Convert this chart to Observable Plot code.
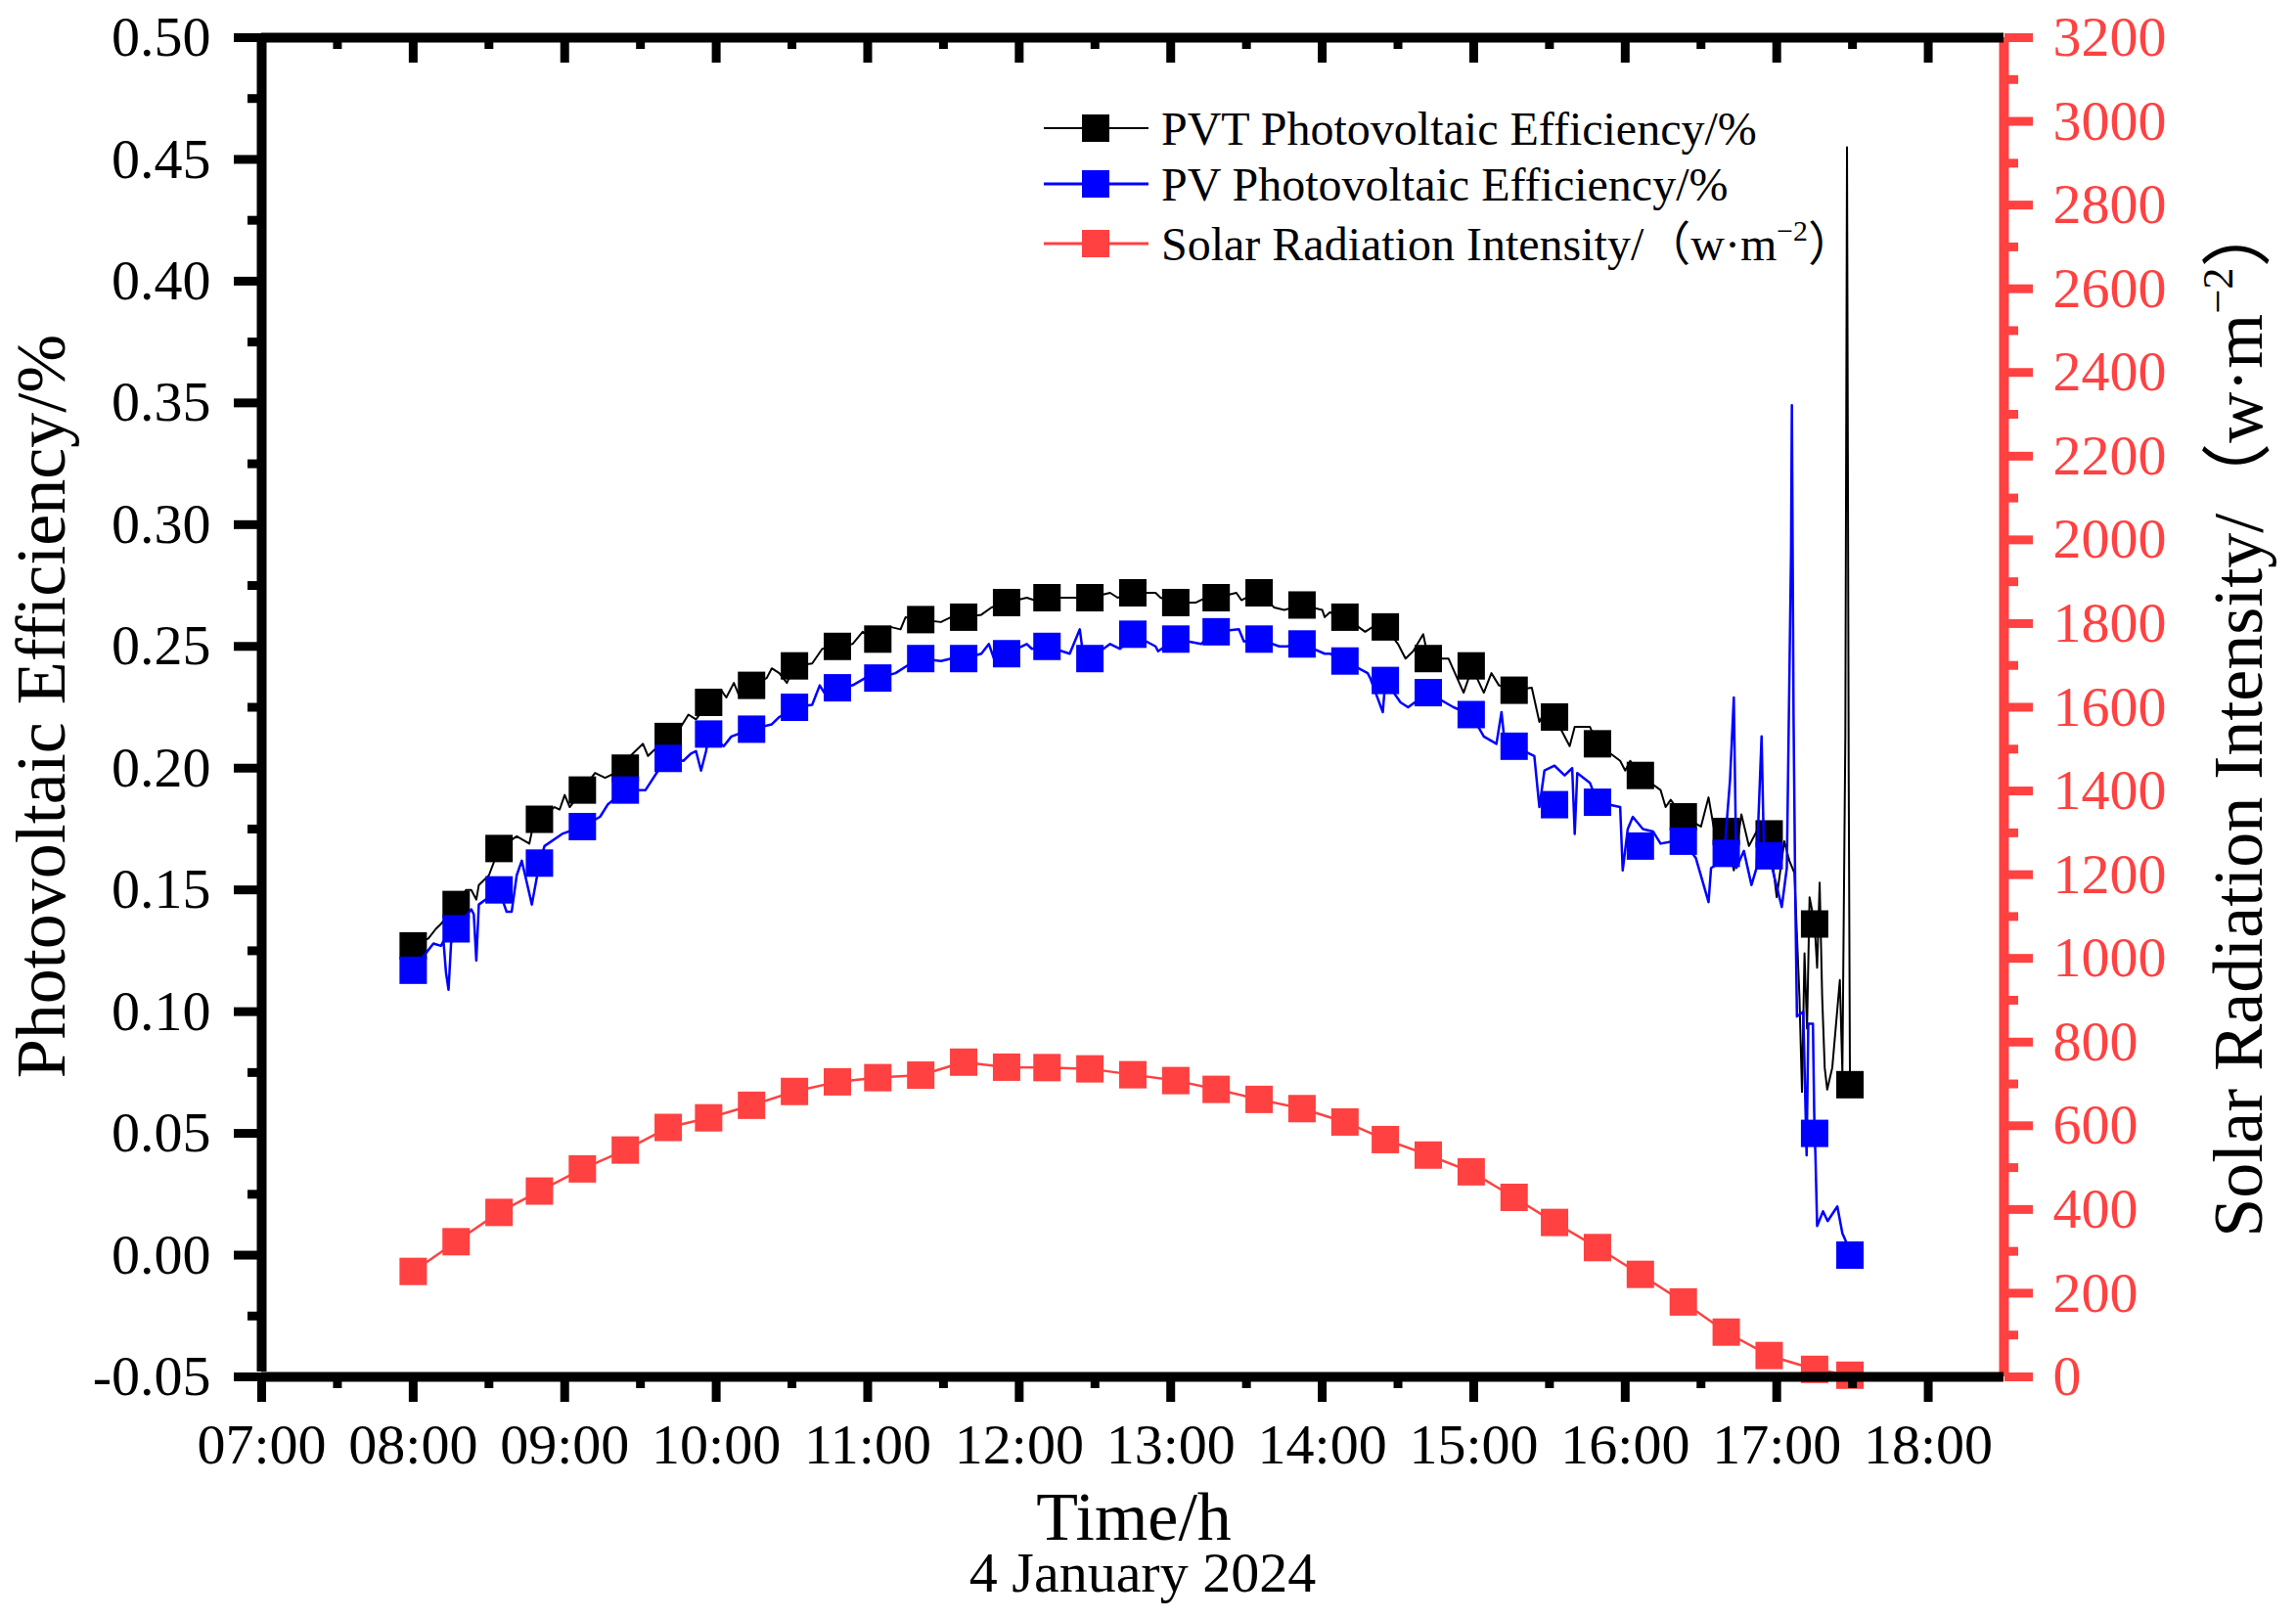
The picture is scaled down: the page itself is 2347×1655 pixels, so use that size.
<!DOCTYPE html>
<html><head><meta charset="utf-8">
<script src="https://cdn.jsdelivr.net/npm/d3@7"></script>
<script src="https://cdn.jsdelivr.net/npm/@observablehq/plot@0.6"></script>
<style>
html,body{margin:0;padding:0;background:#fff;}
#chart{position:relative;width:2347px;height:1655px;background:#fff;}
#chart svg{position:absolute;left:0;top:0;}
</style></head><body><div id="chart"></div>
<script>
// ---------- data ----------
const markerTimes = ["08:00","08:17","08:34","08:50","09:07","09:24","09:41","09:57","10:14","10:31","10:48","11:04","11:21","11:38","11:55","12:11","12:28","12:45","13:02","13:18","13:35","13:52","14:09","14:25","14:42","14:59","15:16","15:32","15:49","16:06","16:23","16:40","16:57","17:15","17:29"];
const pvtMarkers = [0.127,0.144,0.167,0.179,0.191,0.200,0.213,0.227,0.234,0.242,0.250,0.253,0.261,0.262,0.268,0.270,0.270,0.272,0.268,0.270,0.272,0.267,0.262,0.258,0.245,0.242,0.232,0.221,0.210,0.197,0.180,0.174,0.173,0.136,0.070];
const pvMarkers = [0.117,0.134,0.150,0.161,0.176,0.191,0.204,0.214,0.216,0.225,0.233,0.237,0.245,0.245,0.247,0.250,0.245,0.255,0.253,0.256,0.253,0.251,0.244,0.236,0.231,0.222,0.209,0.185,0.186,0.168,0.170,0.165,0.164,0.050,0.000];
const solarMarkers = [252,323,393,444,497,542,596,619,649,682,705,715,721,752,740,739,736,722,708,687,663,641,609,567,530,490,429,369,309,245,179,107,51,18,4];

// PVT efficiency trace (time, value)
const pvtTrace = [
["08:00",0.127],["08:06",0.130],["08:09",0.134],["08:11",0.136],["08:17",0.144],["08:21",0.150],["08:23",0.150],["08:25",0.146],["08:26",0.152],["08:30",0.156],
["08:34",0.167],["08:41",0.172],["08:46",0.169],["08:47",0.174],["08:50",0.179],["08:56",0.184],["08:58",0.183],["09:00",0.189],["09:02",0.184],["09:07",0.191],
["09:12",0.198],["09:16",0.196],["09:24",0.200],["09:26",0.205],["09:31",0.210],["09:33",0.205],["09:41",0.213],["09:46",0.217],["09:49",0.222],["09:52",0.220],
["09:57",0.227],["10:02",0.232],["10:04",0.229],["10:07",0.235],["10:09",0.230],["10:14",0.234],["10:20",0.237],["10:22",0.241],["10:25",0.239],["10:28",0.235],
["10:31",0.242],["10:38",0.243],["10:42",0.249],["10:48",0.250],["10:54",0.251],["10:58",0.256],["11:04",0.253],["11:09",0.258],["11:13",0.257],["11:15",0.262],
["11:21",0.261],["11:29",0.260],["11:33",0.262],["11:38",0.262],["11:45",0.263],["11:49",0.266],["11:55",0.268],["12:03",0.270],["12:06",0.269],["12:11",0.270],
["12:19",0.270],["12:22",0.270],["12:28",0.270],["12:36",0.272],["12:39",0.270],["12:45",0.272],["12:54",0.272],["12:56",0.270],["13:02",0.268],["13:10",0.268],
["13:14",0.270],["13:18",0.270],["13:26",0.272],["13:28",0.269],["13:30",0.270],["13:35",0.272],["13:41",0.266],["13:45",0.265],["13:52",0.267],["14:00",0.265],
["14:01",0.262],["14:03",0.264],["14:09",0.262],["14:17",0.256],["14:20",0.258],["14:25",0.258],["14:30",0.251],["14:33",0.245],["14:36",0.248],["14:40",0.255],
["14:42",0.245],["14:50",0.245],["14:56",0.231],["14:58",0.237],["14:59",0.242],["15:04",0.231],["15:07",0.239],["15:10",0.234],["15:16",0.232],["15:23",0.233],
["15:26",0.219],["15:28",0.223],["15:32",0.221],["15:38",0.209],["15:40",0.217],["15:46",0.217],["15:49",0.210],["15:58",0.203],["16:00",0.199],["16:02",0.203],
["16:06",0.197],["16:14",0.191],["16:16",0.184],["16:18",0.187],["16:23",0.180],["16:30",0.176],["16:33",0.188],["16:35",0.176],["16:40",0.174],["16:43",0.158],
["16:46",0.181],["16:49",0.168],["16:52",0.174],["16:57",0.173],["17:00",0.147],["17:03",0.170],["17:05",0.162],["17:07",0.157],["17:09",0.106],["17:10",0.067],
["17:11",0.124],["17:12",0.093],["17:13",0.147],["17:15",0.136],["17:16",0.118],["17:17",0.153],["17:18",0.106],["17:19",0.077],["17:20",0.068],["17:22",0.077],
["17:25",0.113],["17:26",0.075],["17:27:10",0.213],["17:27:50",0.455],["17:28:10",0.330],["17:28:30",0.198],["17:29",0.070]
];

// PV efficiency trace (time, value)
const pvTrace = [
["08:00",0.117],["08:05",0.124],["08:08",0.128],["08:11",0.127],["08:12",0.129],["08:13",0.116],["08:14",0.109],["08:15",0.128],["08:17",0.134],["08:23",0.142],
["08:24",0.140],["08:25",0.121],["08:26",0.144],["08:34",0.150],["08:37",0.141],["08:39",0.141],["08:41",0.156],["08:43",0.162],["08:47",0.144],["08:50",0.161],
["08:52",0.168],["08:59",0.173],["09:07",0.176],["09:14",0.180],["09:17",0.185],["09:24",0.191],["09:32",0.191],["09:37",0.199],["09:41",0.204],["09:47",0.203],
["09:50",0.206],["09:52",0.207],["09:54",0.199],["09:56",0.207],["09:57",0.214],["10:03",0.209],["10:06",0.213],["10:14",0.216],["10:22",0.218],["10:25",0.221],
["10:31",0.225],["10:38",0.226],["10:41",0.234],["10:44",0.229],["10:48",0.233],["10:54",0.234],["10:59",0.237],["11:04",0.237],["11:11",0.239],["11:17",0.243],
["11:21",0.245],["11:29",0.244],["11:33",0.245],["11:38",0.245],["11:45",0.247],["11:48",0.251],["11:50",0.245],["11:55",0.247],["12:03",0.251],["12:05",0.249],
["12:11",0.250],["12:20",0.247],["12:24",0.257],["12:25",0.249],["12:28",0.245],["12:36",0.251],["12:40",0.249],["12:45",0.255],["12:54",0.250],["12:55",0.248],
["13:02",0.253],["13:12",0.251],["13:14",0.253],["13:18",0.256],["13:27",0.257],["13:29",0.252],["13:35",0.253],["13:43",0.250],["13:46",0.250],["13:52",0.251],
["14:01",0.247],["14:03",0.247],["14:09",0.244],["14:18",0.239],["14:19",0.237],["14:24",0.223],["14:25",0.236],["14:31",0.227],["14:34",0.225],["14:42",0.231],
["14:52",0.225],["14:59",0.222],["15:04",0.213],["15:09",0.210],["15:11",0.223],["15:12",0.213],["15:16",0.209],["15:24",0.205],["15:26",0.184],["15:28",0.199],
["15:32",0.201],["15:36",0.197],["15:39",0.200],["15:40",0.173],["15:41",0.198],["15:46",0.194],["15:49",0.186],["15:58",0.184],["15:59",0.158],["16:01",0.175],
["16:03",0.180],["16:07",0.175],["16:11",0.174],["16:14",0.169],["16:19",0.170],["16:23",0.170],["16:28",0.163],["16:33",0.145],["16:34",0.159],["16:39",0.162],
["16:41:30",0.195],["16:43",0.229],["16:44",0.159],["16:47",0.166],["16:50",0.152],["16:52",0.159],["16:54",0.213],["16:55",0.162],["16:57",0.164],["17:02",0.143],
["17:04",0.159],["17:05:40",0.288],["17:06",0.349],["17:06:40",0.221],["17:07:20",0.149],["17:08",0.098],["17:10:30",0.100],["17:11:50",0.041],["17:12:30",0.095],["17:14:20",0.095],
["17:14:50",0.059],["17:15",0.050],["17:15:20",0.041],["17:16",0.012],["17:18:20",0.018],["17:20:10",0.014],["17:24",0.020],["17:26",0.009],["17:27:40",0.005],["17:29",0.000]
];

const hourTicks = [7,8,9,10,11,12,13,14,15,16,17,18];
const halfHourTicks = [7.5,8.5,9.5,10.5,11.5,12.5,13.5,14.5,15.5,16.5,17.5];
const leftTicks = [-0.05,0,0.05,0.10,0.15,0.20,0.25,0.30,0.35,0.40,0.45,0.50];
const leftMinor = [-0.025,0.025,0.075,0.125,0.175,0.225,0.275,0.325,0.375,0.425,0.475];
const rightTicks = [0,200,400,600,800,1000,1200,1400,1600,1800,2000,2200,2400,2600,2800,3000,3200];
const rightMinor = [100,300,500,700,900,1100,1300,1500,1700,1900,2100,2300,2500,2700,2900,3100];

const legendLabels = ["PVT Photovoltaic Efficiency/%","PV Photovoltaic Efficiency/%","Solar Radiation Intensity/（w·m"];

// ---------- helpers ----------
const toHours = s => { const p = s.split(":").map(Number); return p[0] + p[1]/60 + (p[2]||0)/3600; };
const fmtHour = h => String(h).padStart(2,"0") + ":00";

const pvtPts = markerTimes.map((t,i) => ({t: toHours(t), v: pvtMarkers[i]}));
const pvPts = markerTimes.map((t,i) => ({t: toHours(t), v: pvMarkers[i]}));
const solarPts = markerTimes.map((t,i) => ({t: toHours(t), v: solarMarkers[i]}));
const pvtLine = pvtTrace.map(([t,v]) => ({t: toHours(t), v}));
const pvLine = pvTrace.map(([t,v]) => ({t: toHours(t), v}));

const W = 2347, H = 1655;
const M = {top: 38, right: 299, bottom: 248, left: 267};
const plotH = H - M.top - M.bottom;
const RED = "#ff4141", BLUE = "#0000ff", BLACK = "#000000";
const FONT = "'Liberation Serif', 'Times New Roman', 'Noto Sans CJK SC', serif";
const common = {
  width: W, height: H,
  marginTop: M.top, marginRight: M.right, marginBottom: M.bottom, marginLeft: M.left,
  style: {background: "transparent", fontFamily: FONT, fontSize: "58px", overflow: "visible"}
};
const xScale = {type: "linear", domain: [7, 18.5], axis: null};
const sq = 15.8; // square marker "radius"

// bottom layer: solar radiation on right axis
const solarPlot = Plot.plot({
  ...common,
  x: xScale,
  y: {type: "linear", domain: [0, 3200], axis: null},
  marks: [
    Plot.line(solarPts, {x: "t", y: "v", stroke: RED, strokeWidth: 2.5}),
    Plot.dot(solarPts, {x: "t", y: "v", symbol: "square", r: sq, fill: RED}),
    Plot.ruleX([18.5], {stroke: RED, strokeWidth: 10}),
    Plot.axisY({anchor: "right", ticks: rightTicks, tickSize: 29, tickPadding: 21, fontSize: 58, strokeWidth: 9, stroke: RED, fill: RED, tickFormat: d => String(d), label: null}),
    Plot.axisY({anchor: "right", ticks: rightMinor, tickSize: 14, strokeWidth: 9, stroke: RED, tickFormat: () => "", label: null})
  ]
});

// top layer: efficiencies on left axis
const effPlot = Plot.plot({
  ...common,
  x: xScale,
  y: {type: "linear", domain: [-0.05, 0.5], axis: null},
  marks: [
    Plot.line(pvtLine, {x: "t", y: "v", stroke: BLACK, strokeWidth: 2}),
    Plot.dot(pvtPts, {x: "t", y: "v", symbol: "square", r: sq, fill: BLACK}),
    Plot.line(pvLine, {x: "t", y: "v", stroke: BLUE, strokeWidth: 2.5}),
    Plot.dot(pvPts, {x: "t", y: "v", symbol: "square", r: sq, fill: BLUE}),
    Plot.ruleY([-0.05, 0.5], {stroke: BLACK, strokeWidth: 10}),
    Plot.ruleX([7], {stroke: BLACK, strokeWidth: 10, y1: -0.05, y2: 0.5, insetTop: -5, insetBottom: -5}),
    Plot.tickX(hourTicks, {x: d => d, stroke: BLACK, strokeWidth: 9, insetBottom: plotH - 26}),
    Plot.tickX(halfHourTicks, {x: d => d, stroke: BLACK, strokeWidth: 9, insetBottom: plotH - 12}),
    Plot.axisY({anchor: "left", ticks: leftTicks, tickSize: 28, tickPadding: 24, fontSize: 58, strokeWidth: 9, tickFormat: d => d.toFixed(2), label: null}),
    Plot.axisY({anchor: "left", ticks: leftMinor, tickSize: 14, strokeWidth: 9, tickFormat: () => "", label: null}),
    Plot.axisX({anchor: "bottom", ticks: hourTicks, tickSize: 26, tickPadding: 21, fontSize: 58, strokeWidth: 9, tickFormat: fmtHour, label: null}),
    Plot.axisX({anchor: "bottom", ticks: halfHourTicks, tickSize: 12, strokeWidth: 9, tickFormat: () => "", label: null})
  ]
});

const chart = document.getElementById("chart");
chart.appendChild(solarPlot);
chart.appendChild(effPlot);

// ---------- titles & legend ----------
const svg = d3.select(effPlot);
const g = svg.append("g").attr("font-family", FONT).attr("fill", "black");

function radiationText(sel, fs) {
  sel.append("tspan").text("Solar Radiation Intensity/（w·m");
  sel.append("tspan").attr("dy", -0.42 * fs).attr("font-size", fs * 0.62).text("−2");
  sel.append("tspan").attr("dy", 0.42 * fs).text("）");
}

g.append("text").attr("transform", "translate(66,722) rotate(-90)")
  .attr("text-anchor", "middle").attr("font-size", 72).text("Photovoltaic Efficiency/%");
radiationText(
  g.append("text").attr("transform", "translate(2312,733) rotate(-90)")
   .attr("text-anchor", "middle").attr("font-size", 72), 72);

g.append("text").attr("x", 1159).attr("y", 1574).attr("text-anchor", "middle")
  .attr("font-size", 70).text("Time/h");
g.append("text").attr("x", 1168).attr("y", 1627).attr("text-anchor", "middle")
  .attr("font-size", 58).text("4 January 2024");

const legendRows = [
  {y: 131, color: BLACK, lw: 2},
  {y: 188, color: BLUE, lw: 3},
  {y: 249, color: RED, lw: 3}
];
legendRows.forEach((r, i) => {
  g.append("line").attr("x1", 1067).attr("x2", 1174).attr("y1", r.y).attr("y2", r.y)
    .attr("stroke", r.color).attr("stroke-width", r.lw);
  g.append("rect").attr("x", 1106).attr("y", r.y - 14).attr("width", 28).attr("height", 28).attr("fill", r.color);
  const t = g.append("text").attr("x", 1187).attr("y", r.y + 17)
    .attr("text-anchor", "start").attr("font-size", 48);
  if (i < 2) t.text(legendLabels[i]); else radiationText(t, 48);
});
</script></body></html>
